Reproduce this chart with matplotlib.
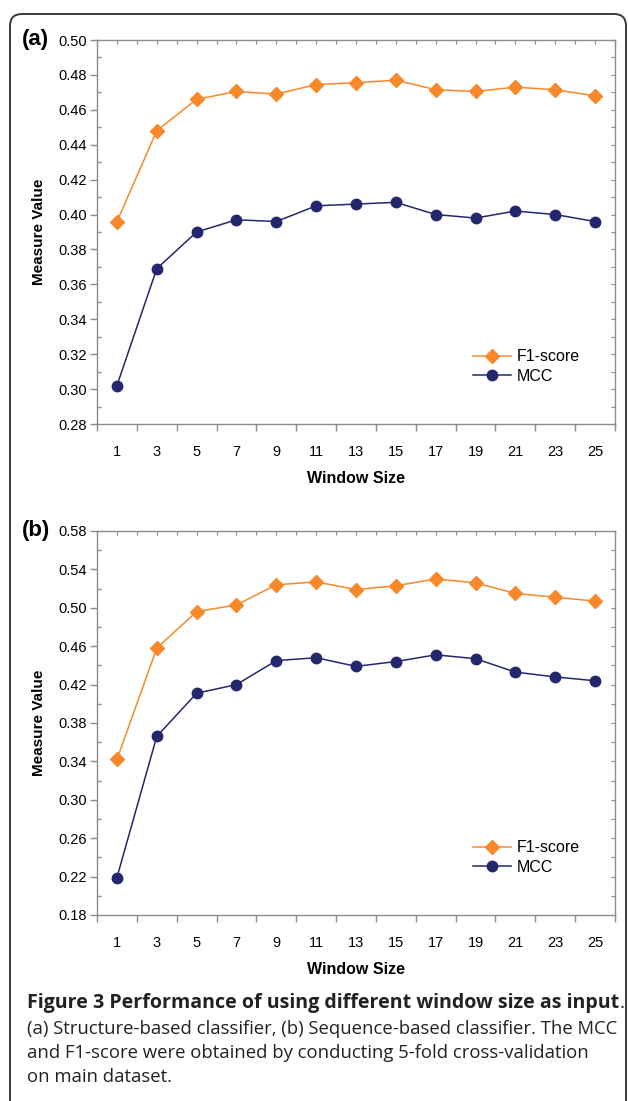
import matplotlib
matplotlib.use("Agg")
import matplotlib.pyplot as plt
from matplotlib.patches import FancyBboxPatch
from matplotlib.transforms import IdentityTransform
from matplotlib.ticker import MultipleLocator, FixedLocator, NullFormatter, FormatStrFormatter

# data
window_sizes = ["1", "3", "5", "7", "9", "11", "13", "15", "17", "19", "21", "23", "25"]

f1_a = [0.396, 0.448, 0.466, 0.4705, 0.469, 0.4745, 0.4755, 0.477, 0.4715, 0.4705, 0.473, 0.4715, 0.468]
mcc_a = [0.302, 0.369, 0.390, 0.397, 0.396, 0.405, 0.406, 0.407, 0.400, 0.398, 0.402, 0.400, 0.396]
yticks_a = [0.28, 0.30, 0.32, 0.34, 0.36, 0.38, 0.40, 0.42, 0.44, 0.46, 0.48, 0.50]

f1_b = [0.342, 0.458, 0.496, 0.503, 0.524, 0.527, 0.519, 0.523, 0.530, 0.526, 0.515, 0.511, 0.507]
mcc_b = [0.219, 0.366, 0.411, 0.420, 0.445, 0.448, 0.439, 0.444, 0.451, 0.447, 0.433, 0.428, 0.424]
yticks_b = [0.18, 0.22, 0.26, 0.30, 0.34, 0.38, 0.42, 0.46, 0.50, 0.54, 0.58]

ORANGE = "#F7892B"
NAVY = "#24276E"
GREY = "#8C8C8C"

W, H = 628, 1101
fig = plt.figure(figsize=(W / 100, H / 100), dpi=100)
plt.rcParams["font.family"] = ["Liberation Sans", "DejaVu Sans"]


def px_axes(l, t, r, b):
    return fig.add_axes([l / W, 1 - b / H, (r - l) / W, (b - t) / H])


def draw_panel(ax, f1, mcc, yticks, minor, tag):
    x = list(range(len(window_sizes)))
    ax.plot(x, f1, color=ORANGE, marker="D", markersize=7, lw=1.1, label="F1-score")
    ax.plot(x, mcc, color=NAVY, marker="o", markersize=7.5, lw=1.1, label="MCC")
    ax.set_xlim(-0.5, len(x) - 0.5)
    ax.set_ylim(yticks[0], yticks[-1])

    for s in ax.spines.values():
        s.set_color(GREY)
        s.set_linewidth(1.0)

    # category labels at centres, tick marks at the boundaries
    ax.xaxis.set_major_locator(FixedLocator([i - 0.5 for i in range(len(x) + 1)]))
    ax.xaxis.set_major_formatter(NullFormatter())
    ax.xaxis.set_minor_locator(FixedLocator(x))
    ax.set_xticklabels(window_sizes, minor=True)
    ax.tick_params(axis="x", which="major", direction="out", length=5, color=GREY, width=1)
    ax.tick_params(axis="x", which="minor", length=0, pad=15, labelsize=10.5)

    ax.yaxis.set_major_locator(FixedLocator(yticks))
    ax.yaxis.set_minor_locator(MultipleLocator(minor))
    ax.yaxis.set_major_formatter(FormatStrFormatter("%.2f"))
    ax.tick_params(axis="y", which="major", direction="out", length=5, color=GREY, width=1,
                   labelsize=10.5, pad=2)
    ax.tick_params(axis="y", which="minor", direction="in", length=3, color=GREY, width=1)

    # small inner ticks on the right and top spines
    ax_r = ax.secondary_yaxis("right")
    ax_r.yaxis.set_major_locator(MultipleLocator(minor))
    ax_r.tick_params(direction="in", length=3, color=GREY, labelright=False)
    ax_r.spines["right"].set_visible(False)
    ax_t = ax.secondary_xaxis("top")
    ax_t.xaxis.set_major_locator(FixedLocator([i * 0.5 - 0.5 for i in range(2 * len(x) + 1)]))
    ax_t.tick_params(direction="in", length=3, color=GREY, labeltop=False)
    ax_t.spines["top"].set_visible(False)

    ax.set_xlabel("Window Size", fontsize=11.5, fontweight="bold", labelpad=9)
    ax.set_ylabel("Measure Value", fontsize=11, fontweight="bold", labelpad=9)
    ax.text(-0.145, 1.0, tag, transform=ax.transAxes, fontsize=16, fontweight="bold",
            ha="left", va="center")

    ax.legend(loc="upper left", bbox_to_anchor=(0.726, 0.195), frameon=False,
              fontsize=11.5, handlelength=2.4, handletextpad=0.35, labelspacing=0.3,
              borderaxespad=0, borderpad=0)


ax_a = px_axes(97, 40, 615, 424)
draw_panel(ax_a, f1_a, mcc_a, yticks_a, 0.01, "(a)")

ax_b = px_axes(97, 531, 615, 915)
draw_panel(ax_b, f1_b, mcc_b, yticks_b, 0.02, "(b)")

# outer rounded frame (runs off the bottom and right of the image)
frame = FancyBboxPatch((10, -30), 616, H - 14 + 30, boxstyle="round,pad=0,rounding_size=12",
                       transform=IdentityTransform(), fill=False, ec="#3a3a3a", lw=1.4)
fig.add_artist(frame)

cap_font = ["Open Sans", "DejaVu Sans"]
title = fig.text(27 / W, 1 - 1003 / H, "Figure 3 Performance of using different window size as input",
                 fontsize=14.1, fontweight="bold", family=cap_font, va="center", ha="left",
                 color="#222222")
# the closing period is set in the regular weight, right after the bold run
fig.canvas.draw()
bb = title.get_window_extent()
fig.text(bb.x1 / W, 1 - 1003 / H, ".", fontsize=13.8, family=cap_font, va="center", ha="left",
         color="#222222")
caption = ["(a) Structure-based classifier, (b) Sequence-based classifier. The MCC",
           "and F1-score were obtained by conducting 5-fold cross-validation",
           "on main dataset."]
for i, line in enumerate(caption):
    fig.text(27 / W, 1 - (1029 + 24 * i) / H, line, fontsize=13.3, family=cap_font,
             va="center", ha="left", color="#222222")

fig.savefig("out.png", dpi=100)
